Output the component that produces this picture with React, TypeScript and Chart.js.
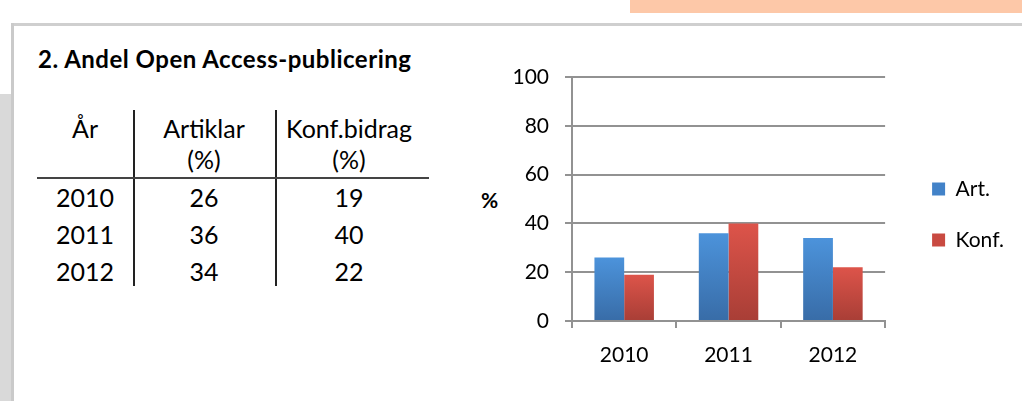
import React, { useEffect, useRef } from 'react';
import { Chart, registerables } from 'chart.js';

Chart.register(...registerables);

// ---- data ----
const years = ['2010', '2011', '2012'];
const artiklar = [26, 36, 34];
const konfBidrag = [19, 40, 22];
const seriesLabels = ['Art.', 'Konf.'];
const yTickMin = 0;
const yTickMax = 100;
const yTickStep = 20;
const tableHead1 = ['År', 'Artiklar', 'Konf.bidrag'];
const tableHead2 = ['', '(%)', '(%)'];
const title = '2. Andel Open Access-publicering';
const axisTitle = '%';

// ---- styles ----
const blueTop = '#4C93DB';
const blueBottom = '#386CA7';
const redTop = '#DD544A';
const redBottom = '#A83E36';
const legendColors = ['#4282C8', '#C94A41'];
const gridColor = '#929292';
const FONT = 'Lato, "Open Sans", sans-serif';

function barGradient(top: string, bottom: string) {
  return (ctx: any) => {
    const chart = ctx.chart;
    if (!chart.chartArea || ctx.type !== 'data') return top;
    const y = chart.scales.y;
    const yTop = y.getPixelForValue(ctx.raw);
    const yBase = y.getPixelForValue(0);
    const g = chart.ctx.createLinearGradient(0, yTop, 0, yBase);
    g.addColorStop(0, top);
    g.addColorStop(1, bottom);
    return g;
  };
}

function BarChart() {
  const ref = useRef<HTMLCanvasElement | null>(null);
  useEffect(() => {
    if (!ref.current) return;
    const chart = new Chart(ref.current, {
      type: 'bar',
      data: {
        labels: years,
        datasets: [
          { label: seriesLabels[0], data: artiklar, backgroundColor: barGradient(blueTop, blueBottom), borderWidth: 0 },
          { label: seriesLabels[1], data: konfBidrag, backgroundColor: barGradient(redTop, redBottom), borderWidth: 0 },
        ],
      },
      options: {
        animation: false,
        responsive: false,
        maintainAspectRatio: false,
        devicePixelRatio: 1,
        layout: { padding: { top: 0, bottom: 12, left: 0, right: 8 } },
        datasets: { bar: { categoryPercentage: 0.57, barPercentage: 1 } },
        plugins: {
          tooltip: { enabled: false },
          // empty title used only as top spacing above the plot
          title: { display: true, text: ' ', font: { size: 37, lineHeight: 1 }, padding: 0 },
          legend: {
            display: true,
            position: 'right',
            maxWidth: 300,
            labels: {
              boxWidth: 13,
              boxHeight: 13,
              padding: 30,
              color: '#000',
              font: { family: FONT, size: 21 },
              generateLabels: (c: any) =>
                c.data.datasets.map((ds: any, i: number) => ({
                  text: ds.label,
                  fillStyle: legendColors[i],
                  strokeStyle: legendColors[i],
                  lineWidth: 0,
                  hidden: false,
                  datasetIndex: i,
                  fontColor: '#000',
                })),
            },
          },
        },
        scales: {
          x: {
            grid: { display: true, drawOnChartArea: false, drawTicks: true, tickLength: 7, color: gridColor, lineWidth: 2 },
            border: { display: true, color: gridColor, width: 2 },
            ticks: { color: '#000', font: { family: FONT, size: 21 }, padding: 15 },
            afterFit: (s: any) => { s.height = 68; },
          },
          y: {
            min: yTickMin,
            max: yTickMax,
            ticks: { stepSize: yTickStep, color: '#000', font: { family: FONT, size: 21 }, padding: 16 },
            grid: { color: gridColor, lineWidth: 2, tickLength: 7, drawTicks: true },
            border: { display: true, color: gridColor, width: 2 },
            afterFit: (s: any) => { s.width = 102; },
          },
          y2: {
            type: 'linear',
            position: 'right',
            display: true,
            grid: { display: false },
            border: { display: false },
            ticks: { display: false },
            afterFit: (s: any) => { s.width = 17; },
          },
        },
      } as any,
    });
    return () => chart.destroy();
  }, []);
  return <canvas ref={ref} width={552} height={361} style={{ position: 'absolute', left: 470, top: 40, width: 552, height: 361 }} />;
}

const colCenters = [85, 204, 349];
const headBase1Top = 113;
const headBase2Top = 144;
const rowTops = [182, 219, 256];

function Cell({ text, cx, top, size }: { text: string; cx: number; top: number; size: number }) {
  return (
    <div
      style={{
        position: 'absolute',
        left: cx - 100,
        width: 200,
        top,
        textAlign: 'center',
        fontFamily: FONT,
        fontSize: size,
        lineHeight: `${size * 1.2}px`,
        color: '#000',
        whiteSpace: 'nowrap',
      }}
    >
      {text}
    </div>
  );
}

const clippedLetters: [string, number][] = [['g', 705], ['y', 731], ['g', 942], ['p', 976]];

export default function App() {
  const rows = years.map((y, i) => [y, String(artiklar[i]), String(konfBidrag[i])]);
  return (
    <div style={{ position: 'absolute', left: 0, top: 0, width: 1022, height: 401, overflow: 'hidden', background: '#fff' }}>
      {/* decorations */}
      <div style={{ position: 'absolute', left: 630, top: 0, width: 392, height: 13, background: '#FDC8A8', overflow: 'hidden' }}>
        {clippedLetters.map(([ch, x], i) => (
          <span key={i} style={{ position: 'absolute', left: x - 630, top: -28, fontFamily: FONT, fontWeight: 700, fontSize: 24, lineHeight: '28.8px', color: '#F07A22' }}>
            {ch}
          </span>
        ))}
      </div>
      <div style={{ position: 'absolute', left: 0, top: 94, width: 11, height: 307, background: '#D9D9D9' }} />
      <div style={{ position: 'absolute', left: 11, top: 23, width: 1011, height: 3, background: '#CFCFCF' }} />
      <div style={{ position: 'absolute', left: 11, top: 23, width: 3, height: 378, background: '#CACACA' }} />

      {/* title */}
      <div style={{ position: 'absolute', left: 38, top: 45, fontFamily: FONT, fontWeight: 700, fontSize: 24, letterSpacing: 0.5, lineHeight: '28.8px', color: '#000', whiteSpace: 'nowrap' }}>
        {title}
      </div>

      {/* table */}
      <div style={{ position: 'absolute', left: 133, top: 110, width: 1.5, height: 176, background: '#222' }} />
      <div style={{ position: 'absolute', left: 275, top: 110, width: 1.5, height: 176, background: '#222' }} />
      <div style={{ position: 'absolute', left: 37, top: 177, width: 392, height: 1.5, background: '#444' }} />
      {tableHead1.map((t, i) => (
        <Cell key={'h1' + i} text={t} cx={colCenters[i]} top={headBase1Top} size={25} />
      ))}
      {tableHead2.map((t, i) => (
        <Cell key={'h2' + i} text={t} cx={colCenters[i]} top={headBase2Top} size={25} />
      ))}
      {rows.map((r, ri) =>
        r.map((t, ci) => <Cell key={ri + '-' + ci} text={t} cx={colCenters[ci]} top={rowTops[ri]} size={25} />)
      )}

      {/* y-axis title */}
      <div style={{ position: 'absolute', left: 481, top: 187, fontFamily: FONT, fontWeight: 700, fontSize: 21, lineHeight: '25.2px', color: '#000' }}>
        {axisTitle}
      </div>

      <BarChart />
    </div>
  );
}
